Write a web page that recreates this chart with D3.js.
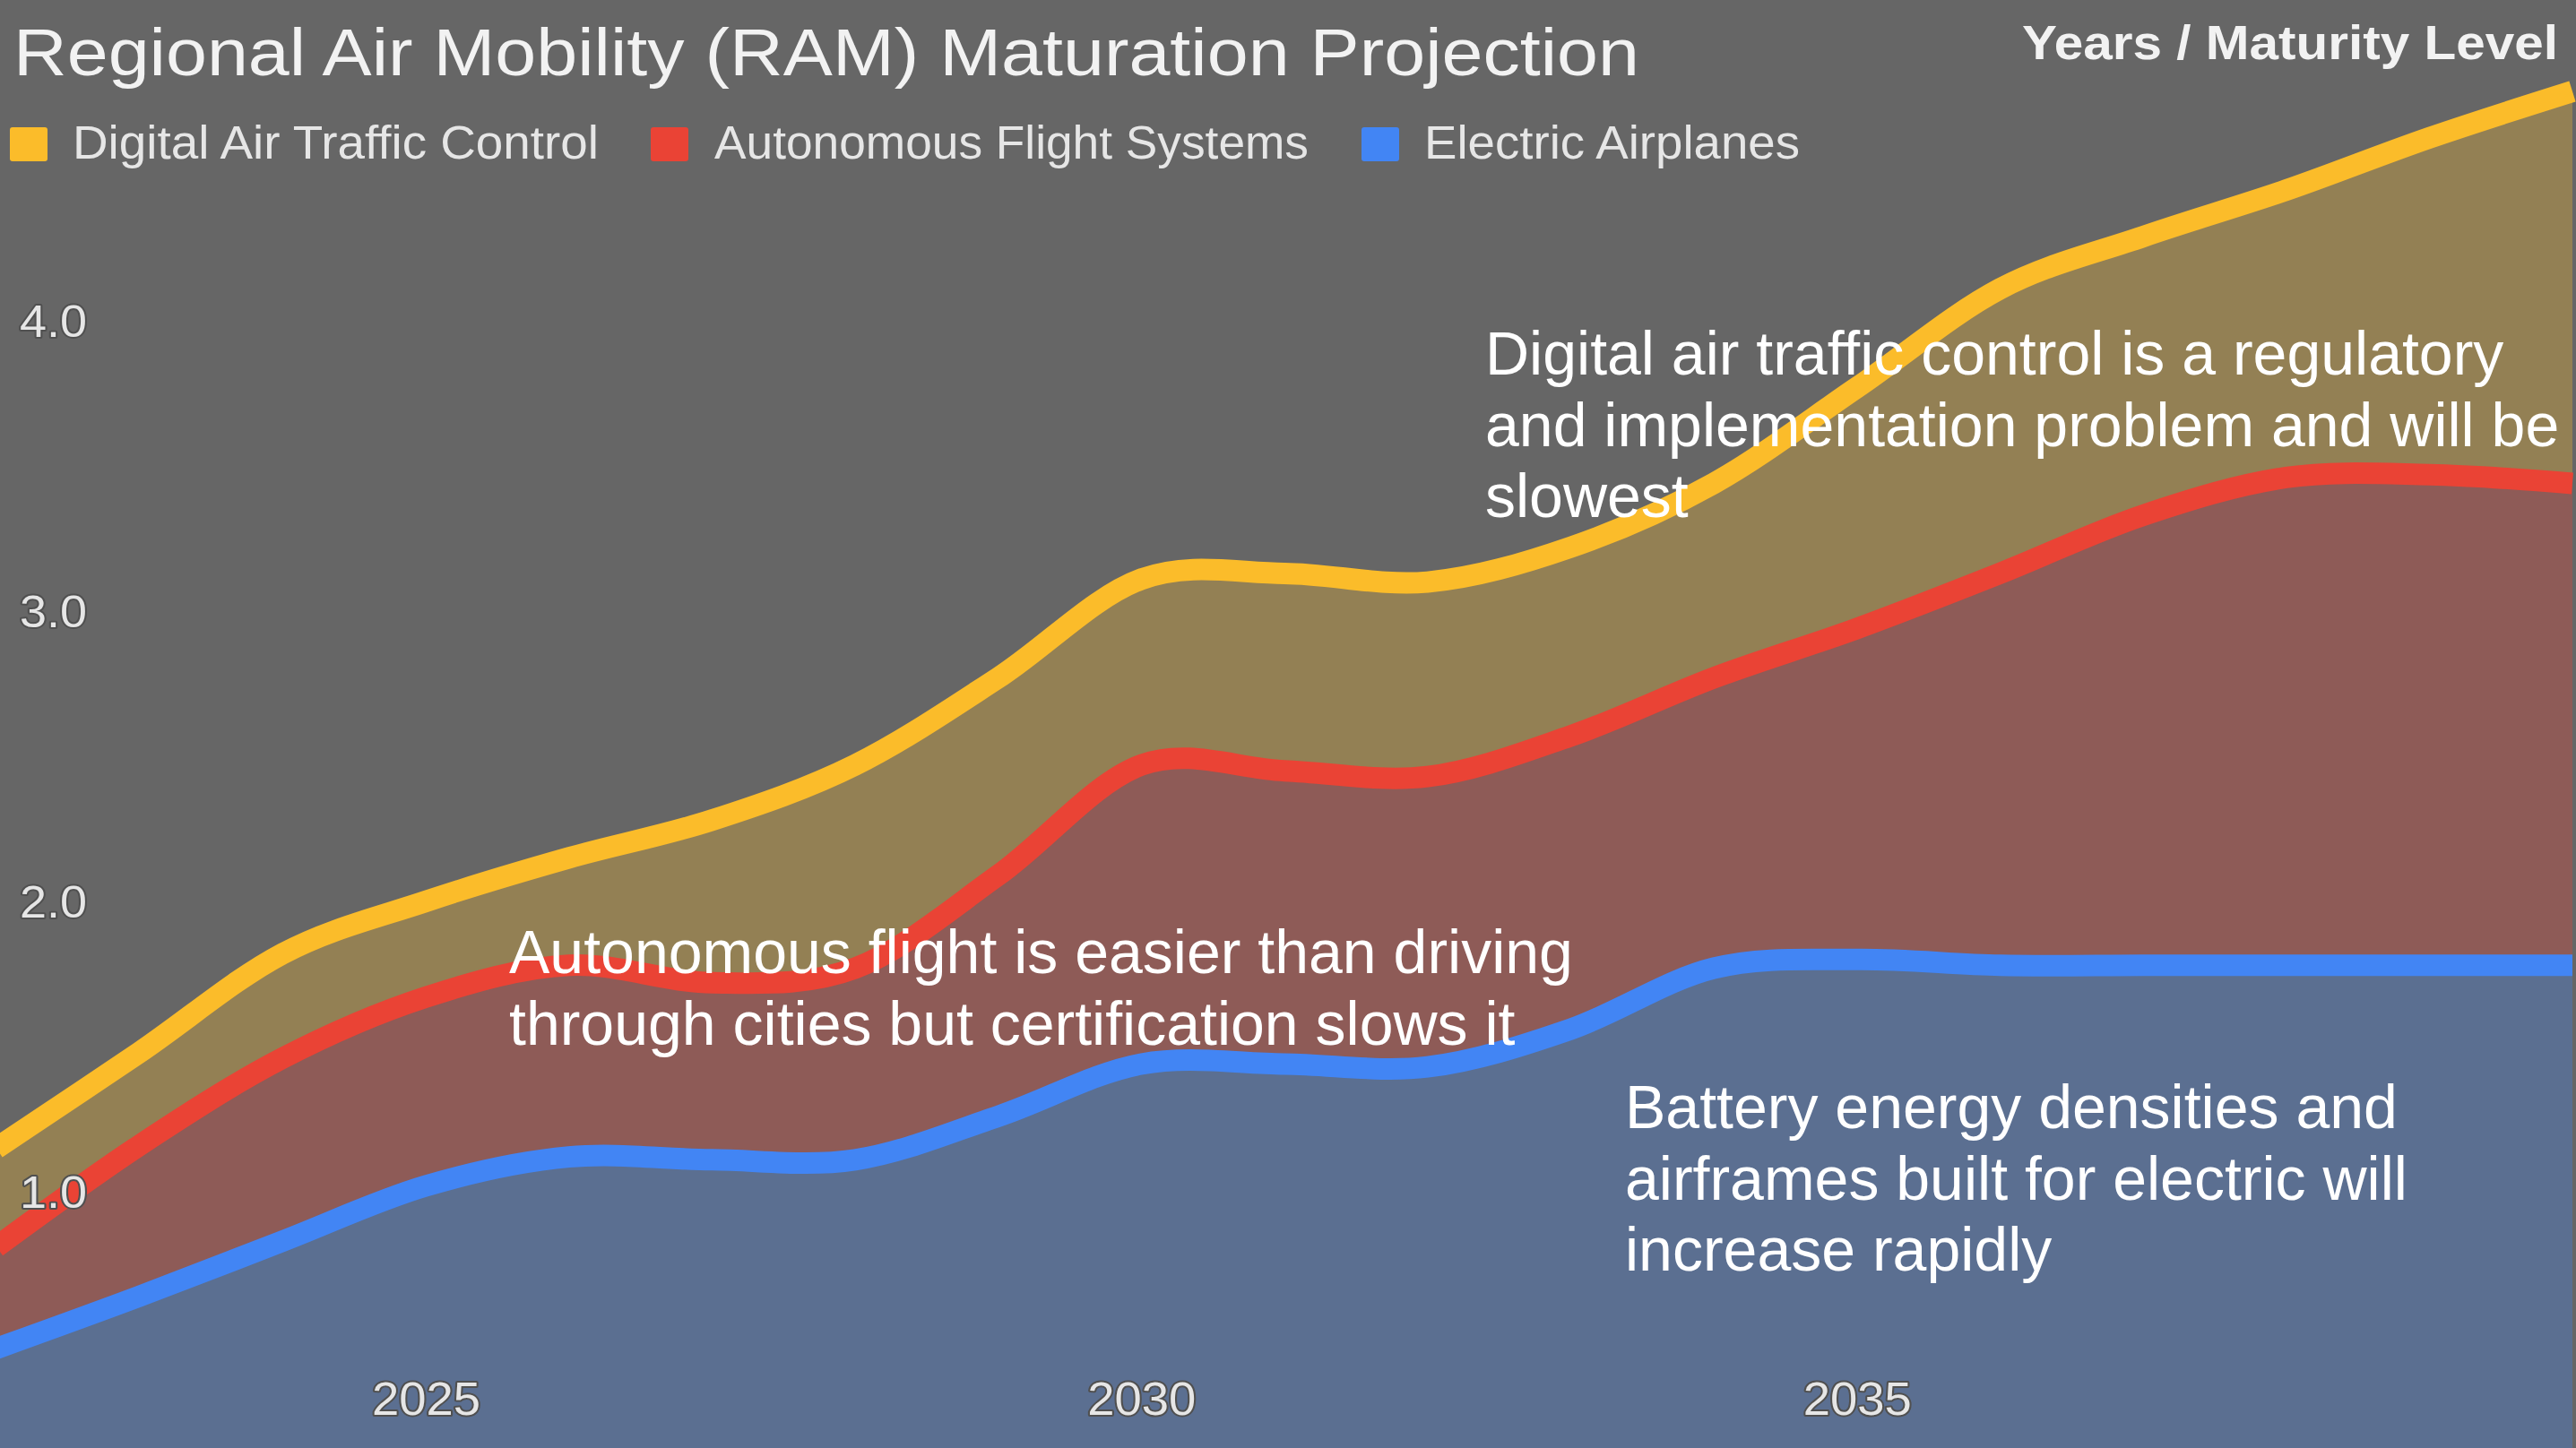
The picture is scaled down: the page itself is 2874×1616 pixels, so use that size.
<!DOCTYPE html>
<html>
<head>
<meta charset="utf-8">
<script src="https://cdn.jsdelivr.net/npm/d3@7"></script>
<style>
  html, body { margin: 0; padding: 0; background: #666666; overflow: hidden; }
  svg { display: block; }
  text { font-family: "Liberation Sans", Arial, sans-serif; }
</style>
</head>
<body>
<svg id="chart" width="2874" height="1616"></svg>
<script>
// ---- data ----
const years = [2022, 2023, 2024, 2025, 2026, 2027, 2028, 2029, 2030, 2031, 2032, 2033, 2034, 2035, 2036, 2037, 2038, 2039, 2040];
const seriesNames = ["Digital Air Traffic Control", "Autonomous Flight Systems", "Electric Airplanes"];
const electricAirplanes = [0.46, 0.64, 0.83, 1.02, 1.12, 1.11, 1.11, 1.26, 1.44, 1.44, 1.43, 1.56, 1.77, 1.80, 1.78, 1.78, 1.78, 1.78, 1.78];
const autonomousFlight  = [0.35, 0.52, 0.63, 0.65, 0.66, 0.61, 0.66, 0.83, 1.03, 1.01, 1.00, 1.01, 1.00, 1.14, 1.35, 1.55, 1.68, 1.69, 1.66];
const digitalATC        = [0.34, 0.32, 0.36, 0.33, 0.37, 0.56, 0.70, 0.68, 0.64, 0.68, 0.67, 0.65, 0.67, 0.83, 0.98, 0.96, 0.99, 1.16, 1.35];
const yTickValues = [1, 2, 3, 4];
const xTickValues = [2025, 2030, 2035];
const titleText = "Regional Air Mobility (RAM) Maturation Projection";
const axisTitleText = "Years / Maturity Level";
const annotations = [
  { lines: ["Digital air traffic control is a regulatory", "and implementation problem and will be", "slowest"] },
  { lines: ["Autonomous flight is easier than driving", "through cities but certification slows it"] },
  { lines: ["Battery energy densities and", "airframes built for electric will", "increase rapidly"] }
];

// ---- styles ----
const colors = { "Electric Airplanes": "#4285f4", "Autonomous Flight Systems": "#ea4335", "Digital Air Traffic Control": "#fbbc2a" };
const W = 2874, H = 1616;

const table = years.map((yr, i) => ({
  year: yr,
  "Electric Airplanes": electricAirplanes[i],
  "Autonomous Flight Systems": autonomousFlight[i],
  "Digital Air Traffic Control": digitalATC[i]
}));
const stackKeys = ["Electric Airplanes", "Autonomous Flight Systems", "Digital Air Traffic Control"];
const stacked = d3.stack().keys(stackKeys)(table);

const x = d3.scaleLinear().domain([2022, 2040]).range([-4, 2870]);
const y = d3.scaleLinear().domain([0, 5]).range([1654, 34]);

const svg = d3.select("#chart");
svg.append("rect").attr("width", W).attr("height", H).attr("fill", "#666666");

const curve = d3.curveCardinal.tension(0);
const area = d3.area().x(d => x(d.data.year)).y0(d => y(d[0])).y1(d => y(d[1])).curve(curve);
const line = d3.line().x(d => x(d.data.year)).y(d => y(d[1])).curve(curve);

const plot = svg.append("g");
plot.selectAll("path.band").data(stacked).join("path")
  .attr("class", "band")
  .attr("d", area)
  .attr("fill", d => colors[d.key])
  .attr("fill-opacity", 0.3);
plot.selectAll("path.line").data(stacked).join("path")
  .attr("class", "line")
  .attr("d", line)
  .attr("fill", "none")
  .attr("stroke", d => colors[d.key])
  .attr("stroke-width", 24)
  .attr("stroke-linejoin", "round");

// ---- axes (labels inside) ----
const yAxis = svg.append("g").attr("transform", "translate(22,0)")
  .call(d3.axisRight(y).tickValues(yTickValues).tickFormat(d3.format(".1f")).tickSize(0));
yAxis.select(".domain").remove();
yAxis.selectAll(".tick text")
  .attr("x", 0).attr("dy", null).attr("y", 17.5)
  .attr("text-anchor", "start")
  .attr("font-size", 50)
  .attr("font-family", "Liberation Sans, Arial, sans-serif")
  .attr("textLength", 75).attr("lengthAdjust", "spacingAndGlyphs")
  .attr("fill", "#e6e6e6")
  .attr("stroke", "#505050").attr("stroke-width", 4).attr("paint-order", "stroke")
  .attr("stroke-linejoin", "round");

const xAxis = svg.append("g").attr("transform", "translate(0,1579)")
  .call(d3.axisBottom(x).tickValues(xTickValues).tickFormat(d3.format("d")).tickSize(0));
xAxis.select(".domain").remove();
xAxis.selectAll(".tick text")
  .attr("y", 0).attr("dy", null)
  .attr("text-anchor", "middle")
  .attr("font-size", 51)
  .attr("font-family", "Liberation Sans, Arial, sans-serif")
  .attr("textLength", 121).attr("lengthAdjust", "spacingAndGlyphs")
  .attr("fill", "#e6e6e6")
  .attr("stroke", "#505050").attr("stroke-width", 4).attr("paint-order", "stroke")
  .attr("stroke-linejoin", "round");

// ---- title ----
svg.append("text").attr("x", 15).attr("y", 84)
  .attr("font-size", 74).attr("fill", "#f2f2f2")
  .attr("textLength", 1814).attr("lengthAdjust", "spacingAndGlyphs")
  .text(titleText);

svg.append("text").attr("x", 2256).attr("y", 66)
  .attr("font-size", 54).attr("font-weight", "bold").attr("fill", "#f2f2f2")
  .attr("textLength", 598).attr("lengthAdjust", "spacingAndGlyphs")
  .text(axisTitleText);

// ---- legend ----
const legendPos = [
  { sx: 11, tx: 81, tw: 587 },
  { sx: 726, tx: 797, tw: 663 },
  { sx: 1519, tx: 1589, tw: 419 }
];
const legend = svg.append("g");
seriesNames.forEach((name, i) => {
  const p = legendPos[i];
  legend.append("rect").attr("x", p.sx).attr("y", 142).attr("width", 42).attr("height", 38)
    .attr("rx", 3).attr("fill", colors[name]);
  legend.append("text").attr("x", p.tx).attr("y", 177)
    .attr("font-size", 51).attr("fill", "#e6e6e6")
    .attr("textLength", p.tw).attr("lengthAdjust", "spacingAndGlyphs")
    .text(name);
});

// ---- annotations ----
const annPos = [
  { x: 1657, y: 418, lh: 79.5 },
  { x: 568, y: 1086, lh: 79.5 },
  { x: 1813, y: 1259, lh: 79.5 }
];
annotations.forEach((a, i) => {
  const p = annPos[i];
  const t = svg.append("text").attr("font-size", 68).attr("fill", "#ffffff");
  a.lines.forEach((ln, j) => {
    t.append("tspan").attr("x", p.x).attr("y", p.y + j * p.lh).text(ln);
  });
});
</script>
</body>
</html>
